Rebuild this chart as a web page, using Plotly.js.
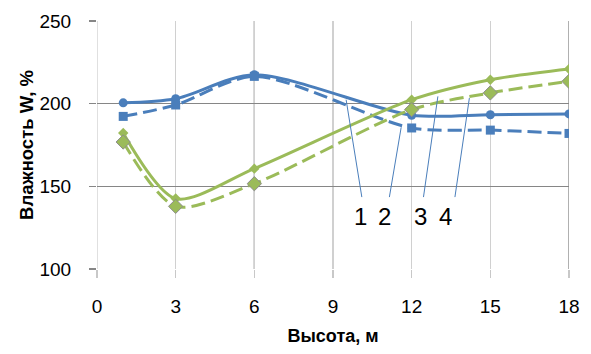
<!DOCTYPE html>
<html>
<head>
<meta charset="utf-8">
<script src="https://cdn.plot.ly/plotly-3.0.1.min.js"></script>
<style>html,body{margin:0;padding:0;background:#fff;}#chart{width:591px;height:354px;}</style>
</head>
<body>
<div id="chart"></div>
<script>
// Height, m
const heights = [1, 3, 6, 12, 15, 18];
// Moisture W, % for each curve
const series1 = [200.5, 203, 217.5, 193, 193.3, 193.8];
const series2 = [192.3, 199.2, 216.5, 185.3, 184, 182];
const series3 = [182.3, 142.6, 160.7, 202.4, 214.5, 221];
const series4 = [176.8, 137.9, 151.6, 196.4, 206.5, 213.5];
const curveLabels = ['1', '2', '3', '4'];
const xTicks = [0, 3, 6, 9, 12, 15, 18];
const yTicks = [100, 150, 200, 250];

const blue = '#4a7ebb';
const green = '#9bbb59';

const traces = [
  {x: heights, y: series1, mode: 'lines+markers', line: {color: blue, width: 3, shape: 'spline', smoothing: 0.8},
   marker: {symbol: 'circle', size: 9, color: blue}},
  {x: heights, y: series2, mode: 'lines+markers', line: {color: blue, width: 3, dash: '14px,6px', shape: 'spline', smoothing: 0.8},
   marker: {symbol: 'square', size: 9, color: blue}},
  {x: heights, y: series3, mode: 'lines+markers', line: {color: green, width: 3, shape: 'spline', smoothing: 0.8},
   marker: {symbol: 'diamond', size: 8, color: green}},
  {x: heights, y: series4, mode: 'lines+markers', line: {color: green, width: 3, dash: '14px,6px', shape: 'spline', smoothing: 0.8},
   marker: {symbol: 'diamond', size: 11, color: green, line: {color: '#8c8c8c', width: 1}}}
];

// leader lines: [x bottom, y bottom, x top, y top]
const leaders = [
  [10.1, 143.5, 9.5, 202.4],
  [11.15, 143.5, 11.6, 185.7],
  [12.45, 143.5, 13.0, 204.4],
  [13.65, 143.5, 14.2, 203.4]
];
const labelX = [10.05, 10.95, 12.35, 13.3];
const labelY = 131.5;

const shapes = [
  {type: 'line', xref: 'x', yref: 'paper', x0: 0, x1: 0, y0: 0, y1: 1, line: {color: '#d0d0d0', width: 1.3}, layer: 'below'},
  {type: 'line', xref: 'x', yref: 'paper', x0: 6, x1: 6, y0: 0, y1: 1, line: {color: '#868686', width: 1.3}, layer: 'below'},
  {type: 'line', xref: 'x', yref: 'paper', x0: 18, x1: 18, y0: 0, y1: 1, line: {color: '#868686', width: 1.3}, layer: 'below'}
].concat(leaders.map(l => ({type: 'line', xref: 'x', yref: 'y', x0: l[0], y0: l[1], x1: l[2], y1: l[3],
  line: {color: blue, width: 1}})));

const annotations = curveLabels.map((t, i) => ({x: labelX[i], y: labelY, xref: 'x', yref: 'y', text: t,
  showarrow: false, font: {family: 'Liberation Sans, Arial, sans-serif', size: 24, color: '#000'}}));

const layout = {
  width: 591, height: 354,
  margin: {l: 97, r: 22, t: 21, b: 85},
  paper_bgcolor: '#fff', plot_bgcolor: '#fff',
  showlegend: false,
  font: {family: 'Liberation Sans, Arial, sans-serif', color: '#000'},
  xaxis: {
    range: [0, 18], tickvals: xTicks, ticktext: xTicks.map(String),
    showgrid: true, gridcolor: '#d0d0d0', gridwidth: 1.3, zeroline: false,
    showline: false, ticks: 'outside', ticklen: 8, tickcolor: '#c8c8c8', tickwidth: 1.3,
    tickfont: {size: 19}, ticklabelstandoff: 12,
    title: {text: '<b>Высота, м</b>', font: {size: 18}, standoff: 13}
  },
  yaxis: {
    range: [100, 250], tickvals: yTicks, ticktext: yTicks.map(String),
    showgrid: true, gridcolor: '#868686', gridwidth: 1.3, zeroline: false,
    showline: false, ticks: 'outside', ticklen: 7, tickcolor: '#868686', tickwidth: 1.3,
    tickfont: {size: 19}, ticklabelstandoff: 14,
    title: {text: '<b>Влажность W, %</b>', font: {size: 18.5}, standoff: 1}
  },
  shapes: shapes,
  annotations: annotations
};

Plotly.newPlot('chart', traces, layout, {displayModeBar: false, staticPlot: true});
</script>
</body>
</html>
